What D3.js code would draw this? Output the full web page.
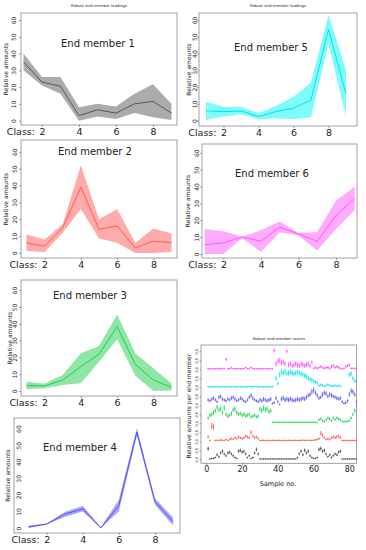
<!DOCTYPE html>
<html>
<head>
<meta charset="utf-8">
<script src="https://cdn.jsdelivr.net/npm/d3@7"></script>
<style>
  body { margin: 0; background: #fff; }
  svg { display: block; }
  text { font-family: "DejaVu Sans", sans-serif; fill: #222; }
</style>
</head>
<body>
<div id="chart"></div>
<script>
// class axis + tick labels
const classes = [1, 2, 3, 4, 5, 6, 7, 8, 9];
const classTicks = [2, 4, 6, 8];
const amountTicks = [0, 10, 20, 30, 40, 50, 60];

// end-member loadings: mean line and band (lower / upper)
const em1Mean  = [35, 23, 20.5, 3, 6.5, 4.5, 10, 11.5, 4.5];
const em1Upper = [40, 26, 26, 8, 10, 8.5, 16, 21.7, 10];
const em1Lower = [30, 21, 16, 0, 2.5, 1, 4.5, 2, 0.4];

const em2Mean  = [6, 4, 15, 39, 14, 16, 3, 7, 6];
const em2Upper = [11, 8, 17, 52, 20, 26, 6, 14.5, 11.5];
const em2Lower = [1.2, 0.6, 12, 26, 8.5, 6, 0, 0, 0.6];

const em3Mean  = [3.2, 3, 6.5, 14.5, 21.8, 38.2, 15.8, 6.5, 2.2];
const em3Upper = [5.5, 4.5, 9.5, 22.4, 26.7, 45.5, 22.4, 13.5, 4.5];
const em3Lower = [1, 1.6, 3.6, 4.6, 17.4, 30.7, 9.1, 0, 0.2];

const em4Mean  = [0.6, 2.4, 8.4, 11.6, 0, 13.6, 58, 16, 4];
const em4Upper = [1.6, 2.7, 9.6, 13.4, 0.6, 17, 60.4, 18, 6.4];
const em4Lower = [0, 2.1, 6.6, 10, 0, 10, 55.6, 14, 1.6];

const em5Mean  = [5.8, 5.4, 5.8, 2.4, 5.4, 7.4, 12.3, 54.5, 16];
const em5Upper = [11.3, 8.3, 8.3, 4.4, 8.7, 14.3, 22.7, 63, 30];
const em5Lower = [0.4, 2.4, 3.8, 0.8, 1.4, 0.8, 2, 46, 2.4];

const em6Mean  = [5.5, 6.5, 10, 7.5, 16, 11.8, 7.5, 22.8, 33];
const em6Upper = [14.8, 13.4, 10.4, 14, 19.3, 12.4, 13, 31.5, 40];
const em6Lower = [0, 0, 9.5, 1.2, 12.8, 11, 2, 14.8, 26];

// end-member scores per sample (0..1), with error half-widths
const sampleTicks = [0, 20, 40, 60, 80];
const sampleNo = d3.range(1, 85);

const score1 = [0.6,0.02,0.05,0.05,0.1,0.25,0.15,0.35,0.45,0.3,
  0.2,0.35,0.4,0.3,0.2,0.1,0.05,0.45,0.5,0.4,
  0.45,0.3,0.1,0.2,0.05,0.1,0.35,0.55,0.3,0.02,
  0.02,0.02,0.02,0.02,0.02,0.02,0.02,0.02,0.02,0.02,
  0.02,0.02,0.02,0.02,0.02,0.02,0.02,0.02,0.02,0.03,
  0.1,0.3,0.45,0.25,0.5,0.35,0.45,0.2,0.1,0.05,
  0.05,0.1,0.55,0.6,0.45,0.5,0.3,0.15,0.25,0.1,
  0.2,0.3,0.25,0.4,0.45,0.02,0.02,0.02,0.02,0.02,
  0.02,0.02,0.02,0.02];
const err1 = [0.1,0.01,0.02,0.02,0.03,0.05,0.04,0.06,0.07,0.05,
  0.04,0.06,0.06,0.05,0.04,0.03,0.02,0.07,0.07,0.06,
  0.06,0.05,0.03,0.04,0.02,0.03,0.06,0.08,0.05,0.01,
  0.01,0.01,0.01,0.01,0.01,0.01,0.01,0.01,0.01,0.01,
  0.01,0.01,0.01,0.01,0.01,0.01,0.01,0.01,0.01,0.01,
  0.03,0.05,0.07,0.05,0.08,0.06,0.07,0.04,0.03,0.02,
  0.02,0.03,0.08,0.09,0.07,0.08,0.05,0.04,0.05,0.03,
  0.04,0.05,0.05,0.06,0.07,0.01,0.01,0.01,0.01,0.01,
  0.01,0.01,0.01,0.01];

const score2 = [0.25,0.05,0.85,0.8,0.05,0.05,0.05,0.08,0.05,0.05,
  0.1,0.05,0.1,0.15,0.12,0.2,0.15,0.25,0.2,0.15,
  0.2,0.3,0.25,0.2,0.5,0.3,0.2,0.25,0.15,0.05,
  0.05,0.05,0.04,0.05,0.05,0.04,0.05,0.05,0.04,0.05,
  0.05,0.04,0.05,0.05,0.04,0.05,0.05,0.04,0.05,0.05,
  0.04,0.05,0.05,0.06,0.05,0.05,0.06,0.05,0.05,0.06,
  0.08,0.1,0.15,0.45,0.35,0.2,0.1,0.15,0.1,0.2,
  0.25,0.2,0.25,0.3,0.2,0.05,0.04,0.05,0.04,0.05,
  0.04,0.05,0.04,0.05];
const err2 = [0.06,0.02,0.15,0.15,0.02,0.02,0.02,0.03,0.02,0.02,
  0.03,0.02,0.03,0.04,0.03,0.05,0.04,0.05,0.05,0.04,
  0.05,0.06,0.05,0.05,0.1,0.06,0.05,0.05,0.04,0.02,
  0.02,0.02,0.02,0.02,0.02,0.02,0.02,0.02,0.02,0.02,
  0.02,0.02,0.02,0.02,0.02,0.02,0.02,0.02,0.02,0.02,
  0.02,0.02,0.02,0.02,0.02,0.02,0.02,0.02,0.02,0.02,
  0.02,0.03,0.04,0.1,0.08,0.05,0.03,0.04,0.03,0.05,
  0.06,0.05,0.06,0.07,0.05,0.02,0.02,0.02,0.02,0.02,
  0.02,0.02,0.02,0.02];

const score3 = [0.3,0.45,0.5,0.6,0.7,0.9,0.75,0.8,0.6,0.85,
  0.5,0.4,0.45,0.55,0.75,0.8,0.6,0.5,0.55,0.45,
  0.5,0.4,0.45,0.5,0.35,0.4,0.45,0.35,0.4,0.8,
  0.7,0.85,0.75,0.8,0.65,0.7,0.05,0.05,0.05,0.05,
  0.05,0.05,0.05,0.05,0.05,0.05,0.05,0.05,0.05,0.05,
  0.05,0.05,0.05,0.05,0.05,0.05,0.05,0.05,0.05,0.05,
  0.05,0.05,0.2,0.25,0.15,0.1,0.2,0.3,0.25,0.15,
  0.3,0.2,0.3,0.25,0.2,0.1,0.1,0.1,0.1,0.15,
  0.3,0.5,0.7,1.0];
const err3 = [0.06,0.08,0.1,0.12,0.1,0.12,0.1,0.12,0.1,0.12,
  0.08,0.08,0.08,0.1,0.1,0.12,0.1,0.08,0.08,0.08,
  0.08,0.08,0.08,0.08,0.07,0.08,0.08,0.07,0.08,0.12,
  0.12,0.14,0.12,0.12,0.1,0.1,0.02,0.02,0.02,0.02,
  0.02,0.02,0.02,0.02,0.02,0.02,0.02,0.02,0.02,0.02,
  0.02,0.02,0.02,0.02,0.02,0.02,0.02,0.02,0.02,0.02,
  0.02,0.02,0.05,0.06,0.05,0.04,0.05,0.06,0.05,0.04,
  0.06,0.05,0.06,0.05,0.05,0.03,0.03,0.03,0.03,0.04,
  0.06,0.08,0.1,0.12];

const score4 = [0.3,0.25,0.35,0.4,0.3,0.2,0.45,0.5,0.35,0.3,
  0.25,0.35,0.3,0.4,0.45,0.35,0.25,0.3,0.4,0.35,
  0.25,0.2,0.3,0.45,0.55,0.4,0.3,0.25,0.2,0.3,
  0.25,0.35,0.3,0.25,0.3,0.35,0.1,0.15,0.4,0.2,
  0.05,0.35,0.4,0.3,0.35,0.3,0.35,0.3,0.25,0.3,
  0.35,0.3,0.35,0.4,0.35,0.45,0.55,0.6,0.75,0.85,
  0.7,0.55,0.4,0.45,0.6,0.7,0.65,0.5,0.6,0.55,
  0.5,0.45,0.4,0.35,0.4,0.2,0.1,0.15,0.25,0.6,
  0.8,0.75,0.6,0.2];
const err4 = [0.06,0.06,0.07,0.08,0.06,0.05,0.08,0.08,0.07,0.06,
  0.06,0.07,0.06,0.08,0.08,0.07,0.06,0.06,0.08,0.07,
  0.06,0.05,0.06,0.08,0.1,0.08,0.06,0.06,0.05,0.08,
  0.08,0.1,0.08,0.08,0.08,0.1,0.04,0.05,0.08,0.06,
  0.03,0.1,0.1,0.1,0.1,0.1,0.1,0.1,0.08,0.1,
  0.1,0.1,0.1,0.1,0.1,0.1,0.1,0.1,0.12,0.12,
  0.1,0.1,0.08,0.08,0.1,0.1,0.1,0.08,0.1,0.1,
  0.08,0.08,0.08,0.07,0.08,0.05,0.04,0.05,0.06,0.1,
  0.12,0.12,0.1,0.06];

const score5 = [0.03,0.03,0.04,0.03,0.03,0.04,0.03,0.03,0.04,0.03,
  0.03,0.04,0.03,0.03,0.04,0.03,0.03,0.04,0.03,0.03,
  0.04,0.03,0.03,0.05,0.03,0.03,0.04,0.05,0.03,0.03,
  0.04,0.03,0.03,0.04,0.03,0.03,0.04,null,0.5,0.2,
  0.7,0.85,0.8,0.9,0.75,0.8,0.85,0.8,0.75,0.8,
  0.85,0.8,0.75,0.7,0.65,0.6,0.5,0.45,0.4,0.35,
  0.3,0.25,0.1,0.15,0.1,0.05,0.1,0.15,0.1,0.05,
  0.08,0.1,0.05,0.1,0.05,null,null,null,null,0.7,
  0.75,0.5,0.35,0.3];
const err5 = [0.02,0.02,0.02,0.02,0.02,0.02,0.02,0.02,0.02,0.02,
  0.02,0.02,0.02,0.02,0.02,0.02,0.02,0.02,0.02,0.02,
  0.02,0.02,0.02,0.02,0.02,0.02,0.02,0.02,0.02,0.02,
  0.02,0.02,0.02,0.02,0.02,0.02,0.02,0,0.12,0.08,
  0.14,0.14,0.12,0.14,0.12,0.12,0.14,0.12,0.12,0.12,
  0.12,0.12,0.12,0.12,0.12,0.12,0.12,0.1,0.1,0.1,
  0.08,0.08,0.04,0.05,0.04,0.03,0.04,0.05,0.04,0.03,
  0.03,0.04,0.03,0.04,0.03,0,0,0,0,0.12,
  0.12,0.1,0.08,0.06];

const score6 = [0.03,0.03,0.04,0.03,0.03,0.04,0.03,0.03,0.05,0.04,
  0.55,0.04,0.03,0.08,0.04,0.03,0.03,0.04,0.03,0.03,
  0.04,0.1,0.04,0.03,0.1,0.04,0.03,0.04,0.03,0.03,
  0.03,0.03,0.04,0.03,0.03,0.04,0.03,1.05,0.3,0.45,
  0.5,0.35,0.4,0.3,1.0,0.25,0.3,0.2,0.25,0.3,
  0.25,0.2,0.3,0.25,0.2,0.25,0.3,0.2,0.4,0.05,
  0.1,0.05,0.1,0.15,0.1,0.05,0.1,0.1,0.05,0.15,
  0.2,0.1,0.15,0.1,0.05,0.02,0.05,0.15,0.2,0.25,
  0.05,0.05,0.05,0.03];
const err6 = [0.02,0.02,0.02,0.02,0.02,0.02,0.02,0.02,0.02,0.02,
  0.08,0.02,0.02,0.03,0.02,0.02,0.02,0.02,0.02,0.02,
  0.02,0.03,0.02,0.02,0.03,0.02,0.02,0.02,0.02,0.02,
  0.02,0.02,0.02,0.02,0.02,0.02,0.02,0.08,0.12,0.12,
  0.12,0.12,0.12,0.12,0.08,0.12,0.12,0.1,0.12,0.12,
  0.12,0.1,0.12,0.12,0.1,0.12,0.12,0.1,0.06,0.04,
  0.05,0.04,0.05,0.06,0.05,0.04,0.05,0.05,0.04,0.06,
  0.06,0.05,0.06,0.05,0.04,0.02,0.03,0.05,0.06,0.06,
  0.03,0.03,0.03,0.02];

// panels (loadings), with page layout of each frame
// tickX: baseline of rotated y tick labels relative to frame left; ylabX: baseline of y title
const loadings = [
  { name: 'End member 1', mean: em1Mean, upper: em1Upper, lower: em1Lower, fill: '#ababab', line: '#555555',
    box: { x0: 21, x1: 177, y0: 13, y1: 125, xlim: [0.865, 9.3], ylim: [-2.6, 64.2], tickX: -5.5, ylabX: 8 },
    label: [98, 43], title: true },
  { name: 'End member 5', mean: em5Mean, upper: em5Upper, lower: em5Lower, fill: '#80fbfb', line: '#00e3e8',
    box: { x0: 199, x1: 357, y0: 13, y1: 126, xlim: [0.6, 9.63], ylim: [-3.2, 64.2], tickX: -2, ylabX: 191 },
    label: [271, 47], title: true },
  { name: 'End member 2', mean: em2Mean, upper: em2Upper, lower: em2Lower, fill: '#ffabab', line: '#ff5a5a',
    box: { x0: 21, x1: 177, y0: 140, y1: 258, xlim: [0.7, 9.3], ylim: [-3, 67], tickX: -3.8, ylabX: 8 },
    label: [95, 151] },
  { name: 'End member 6', mean: em6Mean, upper: em6Upper, lower: em6Lower, fill: '#ffabff', line: '#ff55ff',
    box: { x0: 202, x1: 357, y0: 144, y1: 258, xlim: [0.86, 9.12], ylim: [-2.4, 65.2], tickX: -3.5, ylabX: 190 },
    label: [272, 173] },
  { name: 'End member 3', mean: em3Mean, upper: em3Upper, lower: em3Lower, fill: '#8fe6a6', line: '#1ccf55',
    box: { x0: 21, x1: 177, y0: 280, y1: 396, xlim: [0.7, 9.3], ylim: [-3, 66], tickX: -3.8, ylabX: 12 },
    label: [90, 295] },
  { name: 'End member 4', mean: em4Mean, upper: em4Upper, lower: em4Lower, fill: '#a8a8fa', line: '#5252f2',
    box: { x0: 14, x1: 180, y0: 418, y1: 533, xlim: [0.19, 9.39], ylim: [-3, 66.4], tickX: 7, ylabX: 10 },
    label: [80, 447] }
];

const scoreSeries = [
  { values: score1, err: err1, color: '#444444' },
  { values: score2, err: err2, color: '#ff5050' },
  { values: score3, err: err3, color: '#1ccf55' },
  { values: score4, err: err4, color: '#5252f2' },
  { values: score5, err: err5, color: '#00e3e8' },
  { values: score6, err: err6, color: '#ff44ff' }
];

const width = 366, height = 550;
const svg = d3.select('#chart').append('svg')
  .attr('width', width)
  .attr('height', height);

function styleAxis(g) {
  g.select('.domain').remove();
  g.selectAll('.tick line').attr('stroke', '#666').attr('stroke-width', 0.6);
}

function drawLoadings(p) {
  const b = p.box;
  const g = svg.append('g');
  const x = d3.scaleLinear().domain(b.xlim).range([b.x0, b.x1]);
  const y = d3.scaleLinear().domain(b.ylim).range([b.y1, b.y0]);

  const rows = classes.map((c, i) => ({ c: c, m: p.mean[i], lo: p.lower[i], hi: p.upper[i] }));

  g.append('path')
    .datum(rows)
    .attr('fill', p.fill)
    .attr('d', d3.area().x(d => x(d.c)).y0(d => y(d.lo)).y1(d => y(d.hi)));

  g.append('path')
    .datum(rows)
    .attr('fill', 'none')
    .attr('stroke', p.line)
    .attr('stroke-width', 1)
    .attr('d', d3.line().x(d => x(d.c)).y(d => y(d.m)));

  // frame
  g.append('rect')
    .attr('x', b.x0).attr('y', b.y0)
    .attr('width', b.x1 - b.x0).attr('height', b.y1 - b.y0)
    .attr('fill', 'none').attr('stroke', '#8a8a8a').attr('stroke-width', 0.8);

  // y axis, rotated labels
  const ya = g.append('g')
    .attr('transform', `translate(${b.x0},0)`)
    .call(d3.axisLeft(y).tickValues(amountTicks).tickSize(b.tickX > 0 ? 0 : 2).tickFormat(d3.format('d')));
  styleAxis(ya);
  ya.selectAll('.tick text')
    .attr('x', null).attr('dy', null)
    .attr('text-anchor', 'middle')
    .attr('transform', `translate(${b.tickX},0) rotate(-90)`)
    .style('font-size', '6px')
    .style('font-family', '"DejaVu Sans", sans-serif')
    .attr('fill', '#333');

  // x axis
  const xa = g.append('g')
    .attr('transform', `translate(0,${b.y1})`)
    .call(d3.axisBottom(x).tickValues(classTicks).tickSize(2).tickPadding(1));
  styleAxis(xa);
  xa.selectAll('.tick text')
    .style('font-size', '9.5px')
    .style('font-family', '"DejaVu Sans", sans-serif')
    .attr('fill', '#222');

  g.append('text')
    .attr('x', x(2) - 7)
    .attr('y', b.y1 + 9.7)
    .attr('text-anchor', 'end')
    .style('font-size', '9.5px')
    .text('Class:');

  g.append('text')
    .attr('transform', `translate(${b.ylabX},${(b.y0 + b.y1) / 2}) rotate(-90)`)
    .attr('text-anchor', 'middle')
    .style('font-size', '6px')
    .text('Relative amounts');

  g.append('text')
    .attr('x', p.label[0]).attr('y', p.label[1])
    .attr('dy', '0.35em')
    .attr('text-anchor', 'middle')
    .style('font-size', '10px')
    .text(p.name);

  if (p.title) {
    g.append('text')
      .attr('x', (b.x0 + b.x1) / 2).attr('y', 7.3)
      .attr('text-anchor', 'middle')
      .style('font-size', '3.8px')
      .text('Robust end-member loadings');
  }
}

loadings.forEach(drawLoadings);

// scores panel
(function drawScores() {
  const b = { x0: 201, x1: 356.5, y0: 345, y1: 463.3 };
  const g = svg.append('g');
  const x = d3.scaleLinear().domain([-3, 84]).range([b.x0, b.x1]);
  const y = d3.scaleLinear().domain([-0.22, 6.35]).range([b.y1, b.y0]);

  scoreSeries.forEach((s, k) => {
    const pts = sampleNo.map((n, i) => ({ n: n, v: s.values[i], e: s.err[i] }))
      .filter(d => d.v !== null);
    const sg = g.append('g').attr('stroke', s.color);
    sg.selectAll('line.bar')
      .data(pts)
      .join('line')
      .attr('class', 'bar')
      .attr('x1', d => x(d.n)).attr('x2', d => x(d.n))
      .attr('y1', d => y(k + d.v - d.e) + 0.4)
      .attr('y2', d => y(k + d.v + d.e) - 0.4)
      .attr('stroke-width', 0.8);
    sg.selectAll('line.mark')
      .data(pts)
      .join('line')
      .attr('class', 'mark')
      .attr('x1', d => x(d.n) - 0.8).attr('x2', d => x(d.n) + 0.8)
      .attr('y1', d => y(k + d.v)).attr('y2', d => y(k + d.v))
      .attr('stroke-width', 0.8);
  });

  g.append('rect')
    .attr('x', b.x0).attr('y', b.y0)
    .attr('width', b.x1 - b.x0).attr('height', b.y1 - b.y0)
    .attr('fill', 'none').attr('stroke', '#8a8a8a').attr('stroke-width', 0.8);

  const xa = g.append('g')
    .attr('transform', `translate(0,${b.y1})`)
    .call(d3.axisBottom(x).tickValues(sampleTicks).tickSize(2).tickPadding(1));
  styleAxis(xa);
  xa.selectAll('.tick text')
    .style('font-size', '8px')
    .style('font-family', '"DejaVu Sans", sans-serif')
    .attr('fill', '#222');

  const yTicks = d3.range(0, 6.01, 0.5);
  const ya = g.append('g')
    .attr('transform', `translate(${b.x0},0)`)
    .call(d3.axisLeft(y).tickValues(yTicks).tickSize(1.5)
      .tickFormat(d => (d % 1 === 0 ? '0.0' : '0.5')));
  styleAxis(ya);
  ya.selectAll('.tick text')
    .attr('x', null).attr('dy', null)
    .attr('text-anchor', 'middle')
    .attr('transform', 'translate(-3.2,0) rotate(-90)')
    .style('font-size', '3.5px')
    .style('font-family', '"DejaVu Sans", sans-serif')
    .attr('fill', '#333');

  g.append('text')
    .attr('x', (b.x0 + b.x1) / 2).attr('y', 339.5)
    .attr('text-anchor', 'middle')
    .style('font-size', '3.8px')
    .text('Robust end-member scores');

  g.append('text')
    .attr('x', 278).attr('y', 486)
    .attr('text-anchor', 'middle')
    .style('font-size', '6.5px')
    .text('Sample no.');

  g.append('text')
    .attr('transform', `translate(191,${(b.y0 + b.y1) / 2 + 2}) rotate(-90)`)
    .attr('text-anchor', 'middle')
    .style('font-size', '6px')
    .text('Relative amounts per end member');
})();
</script>
</body>
</html>
